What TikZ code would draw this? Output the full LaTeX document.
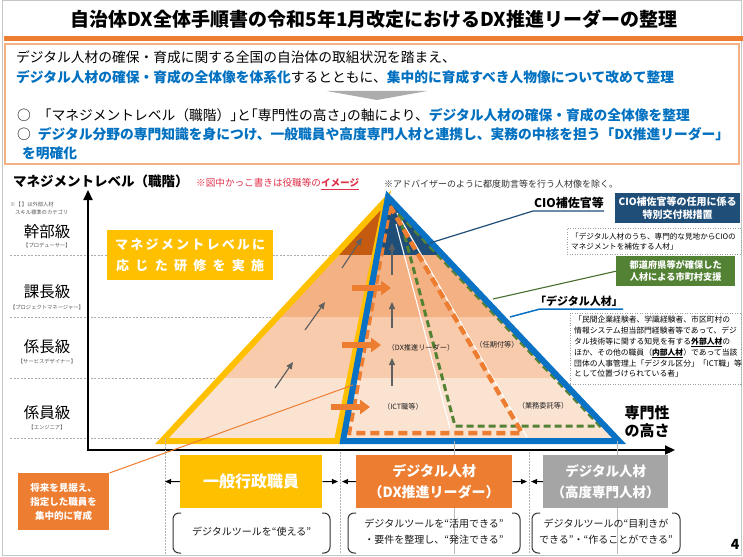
\documentclass[tikz,border=0pt]{standalone}
\usepackage{fontspec}
\setmainfont{Noto Sans CJK JP}
\usetikzlibrary{arrows.meta}
\definecolor{cOrange}{HTML}{ED7D31}
\definecolor{cOrangeL}{HTML}{F4B183}
\definecolor{cBlueTxt}{HTML}{0070C0}
\definecolor{cYellow}{HTML}{FFC000}
\definecolor{cTriBlue}{HTML}{0A72C4}
\definecolor{cNavy}{HTML}{1F4E79}
\definecolor{cGreen}{HTML}{548235}
\definecolor{cDark}{HTML}{C55A11}
\definecolor{cBa}{HTML}{F4B183}
\definecolor{cBb}{HTML}{F8CBAD}
\definecolor{cBc}{HTML}{FBE3D2}
\definecolor{cGrayBox}{HTML}{A5A5A5}
\definecolor{cRed}{HTML}{E0304A}
\newcommand\fsz[2]{\fontsize{#1}{#2}\selectfont}
\newcommand\bl[1]{\textcolor{cBlueTxt}{\bfseries #1}}
\newcommand\ulb[1]{\underline{\textbf{#1}}}
\newcommand\hw[1]{{\addfontfeature{RawFeature=+halt}#1}}
\tikzset{
 tx/.style={inner sep=0, anchor=west, font=\fsz{13.75}{16}},
 dotbox/.style={draw=gray!75, dash pattern=on 1pt off 1.5pt, line width=0.9},
 garr/.style={draw=gray!75!black, line width=1.2, -{Triangle[width=6pt,length=7pt]}},
 oarr/.style={draw=cOrange, line width=5.5, -{Triangle[width=14pt,length=10pt]}},
 sarr/.style={draw=black, line width=0.9, -{Triangle[width=5pt,length=6pt]}},
 rowl/.style={draw=gray!65, line width=0.8, dash pattern=on 2pt off 1.5pt},
 brk/.style={draw=gray!40!black, line width=1, rounded corners=6pt},
 rowlab/.style={font=\fsz{15.5}{16}, inner sep=0},
 rowsub/.style={font=\fsz{5.3}{6}, text=gray!70!black, inner sep=0},
 bigbox/.style={text=white, inner sep=0, anchor=north west, align=center, font=\fsz{14}{21}\bfseries},
 brtxt/.style={font=\fsz{10}{16}, text=gray!20!black, align=center, inner sep=0},
 plab/.style={font=\fsz{7.2}{8}, text=gray!25!black, inner sep=0},
}
\begin{document}
\begin{tikzpicture}[x=1pt,y=-1pt]
\useasboundingbox (0,0) rectangle (743,556);
\fill[white] (0,0) rectangle (743,556);
\draw[gray!45, line width=0.8] (2.5,0.5) rectangle (741.5,555);

% title
\node[font=\fsz{19}{22}\bfseries, inner sep=0] (title) at (374,19) {自治体DX全体手順書の令和5年1月改定におけるDX推進リーダーの整理};
\fill[cOrange] (4,36) rectangle (743,41);

% top box
\draw[cOrangeL, line width=1.5] (5,44) rectangle (739,164);
\node[tx] (l1) at (16,57) {デジタル人材の確保・育成に関する全国の自治体の取組状況を踏まえ、};
\node[tx] (l2) at (16,77) {\bl{デジタル人材の確保・育成の全体像を体系化}するとともに、\bl{集中的に育成すべき人物像について改めて整理}};
\fill[gray!65] (327,91) -- (427,91) -- (377,100) -- cycle;
\node[tx] (l3) at (17,115) {○\enspace\enspace\hw{「}マネジメントレベル（職階）\hw{」}と\hw{「}専門性の高さ\hw{」}の軸により、\bl{デジタル人材の確保・育成の全体像を整理}};
\node[tx] (l4) at (17,134) {○\enspace\bl{デジタル分野の専門知識を身につけ、一般職員や高度専門人材と連携し、実務の中核を担う「DX推進リーダー」}};
\node[tx] (l5) at (22,153) {\bl{を明確化}};

% chart headings
\node[font=\fsz{13.5}{15}\bfseries, inner sep=0, anchor=west] (ylab) at (13,181) {マネジメントレベル（職階）};
\node[font=\fsz{9.6}{11}, text=cRed, inner sep=0, anchor=west] (rednote) at (196,184) {※図中かっこ書きは役職等の\ulb{イメージ}};
\node[font=\fsz{9}{11}, text=gray!40!black, inner sep=0, anchor=west] (graynote) at (384,184) {※アドバイザーのように都度助言等を行う人材像を除く。};
\node[font=\fsz{5.3}{8}, text=gray!70!black, inner sep=0, anchor=north west, align=left] (smallnote) at (10,202) {※【 】は外部人材\\\hspace*{5pt}スキル標準のカテゴリ};

% row lines
\draw[rowl] (10,255) -- (385,255);
\draw[rowl] (10,317) -- (385,317);
\draw[rowl] (10,378) -- (385,378);
\draw[rowl] (10,438) -- (170,438);

% row labels
\node[rowlab] (r1) at (47,232) {幹部級};
\node[rowsub] (r1s) at (47,245) {【プロデューサー】};
\node[rowlab] (r2) at (47,292) {課長級};
\node[rowsub] (r2s) at (47,307) {【プロジェクトマネージャー】};
\node[rowlab] (r3) at (47,347) {係長級};
\node[rowsub] (r3s) at (47,361) {【サービスデザイナー】};
\node[rowlab] (r4) at (47,413) {係員級};
\node[rowsub] (r4s) at (47,427) {【エンジニア】};

% pyramid coordinates
\coordinate (YA) at (386,200);
\coordinate (YL) at (162,441);
\coordinate (YR) at (337,441);
\coordinate (BA) at (388,197);
\coordinate (BL) at (343,441);
\coordinate (BR) at (619,441);

\begin{scope}
 \clip (YA) -- (YL) -- (YR) -- cycle;
 \fill[cDark] (150,150) rectangle (400,255);
 \fill[cBa] (150,255) rectangle (400,317);
 \fill[cBb] (150,317) rectangle (400,378);
 \fill[cBc] (150,378) rectangle (400,450);
\end{scope}
\begin{scope}
 \clip (BA) -- (BL) -- (BR) -- cycle;
 \fill[cNavy] (330,150) rectangle (640,255);
 \fill[cBa] (330,255) rectangle (640,317);
 \fill[cBb] (330,317) rectangle (640,378);
 \fill[cBc] (330,378) rectangle (640,450);
\end{scope}

% inner groups
\draw[white, line width=1.3] (397,213) -- (527,437);
\draw[white, line width=1.1] (396,224) -- (450,428);
\draw[cGreen, line width=3, dash pattern=on 7pt off 4pt, line join=round] (399,214) -- (455,426) -- (600,426) -- cycle;
\draw[cOrange, line width=4.5, dash pattern=on 9pt off 5pt, line join=round] (390,206) -- (349,433) -- (522,433) -- cycle;

% outlines
\draw[cYellow, line width=6, line join=miter] (YA) -- (YL) -- (YR) -- cycle;
\draw[cTriBlue, line width=6, line join=miter] (BA) -- (BL) -- (BR) -- cycle;

% inner labels
\node[plab] (pdx) at (421,348) {（DX推進リーダー）};
\node[plab] (pnin) at (497,345) {（任期付等）};
\node[plab] (pict) at (403,407) {（ICT職等）};
\node[plab] (pgyo) at (543,406) {（業務委託等）};

% arrows inside
\draw[garr] (275,388) -- (293,362);
\draw[garr] (305,330) -- (325,302);
\draw[garr] (342,268) -- (362,238);
\draw[garr] (392,386) -- (392,358);
\draw[garr] (392,328) -- (392,302);
\draw[garr] (392,275) -- (392,243);
\draw[oarr] (352,288) -- (391,288);
\draw[oarr] (342,345) -- (381,345);
\draw[oarr] (331,407) -- (370,407);

% axes
\draw[line width=2.2, line join=miter, {Triangle[width=9pt,length=10pt]}-{Triangle[width=9pt,length=10pt]}] (88,190) -- (88,450) -- (675,450);
\node[font=\fsz{15}{18}\bfseries, align=center, inner sep=0] (xlab) at (647,422) {専門性\\の高さ};

% management box
\node[fill=cYellow, minimum width=166, minimum height=50, inner sep=0, anchor=north west] (mbox) at (107,230) {};
\node[text=white, font=\fsz{13}{21}\bfseries, align=center, inner sep=0] (mtxt) at (mbox.center) {\makebox[150pt][s]{マ\hfil ネ\hfil ジ\hfil メ\hfil ン\hfil ト\hfil レ\hfil ベ\hfil ル\hfil に}\\\makebox[148pt][s]{応\hfil じ\hfil た\hfil 研\hfil 修\hfil を\hfil 実\hfil 施}};

% right side annotations
\node[font=\fsz{12}{13}\bfseries, inner sep=0] (cio) at (569,203) {CIO補佐官等};
\coordinate (cioA) at (430,243);
\coordinate (cioB) at (533,211);
\draw[cNavy, line width=1.2] (cioA) -- (cioB) -- (cio.south east |- cioB);
\node[fill=cNavy, text=white, font=\fsz{10}{13}\bfseries, align=center, minimum width=125, minimum height=30, inner sep=0, anchor=north west] (ciobox) at (615,193) {CIO補佐官等の任用に係る\\特別交付税措置};
\node[dotbox, minimum width=174, minimum height=26, inner sep=0, anchor=north west] (ciodesc) at (567,228) {};
\node[font=\fsz{7.6}{10.5}, align=left, inner sep=0, anchor=west] (ciodtxt) at ([xshift=4pt]ciodesc.west) {「デジタル人材のうち、専門的な見地からCIOの\\マネジメントを補佐する人材」};

\node[fill=cGreen, text=white, font=\fsz{9.2}{12}\bfseries, align=center, minimum width=119, minimum height=30, inner sep=0, anchor=north west] (gbox) at (616,256) {都道府県等が確保した\\人材による市町村支援};
\coordinate (gA) at (493,299);
\draw[cGreen!85!black, line width=1.1] (gA) -- (gbox.west);

\node[font=\fsz{11}{12}\bfseries, inner sep=0] (dlab) at (579,301) {「デジタル人材」};
\coordinate (dA) at (510,317);
\coordinate (dB) at (540,309);
\draw[cTriBlue, line width=1.5] (dA) -- (dB) -- (dlab.south east |- dB);
\node[dotbox, minimum width=171, minimum height=71, inner sep=0, anchor=north west] (ddesc) at (570,313) {};
\node[font=\fsz{7.8}{10.8}, align=left, inner sep=0, anchor=north west] (ddtxt) at (574,316) {「民間企業経験者、学識経験者、市区町村の\\情報システム担当部門経験者等であって、デジ\\タル技術等に関する知見を有する\ulb{外部人材}の\\ほか、その他の職員（\ulb{内部人材}）であって当該\\団体の人事管理上「デジタル区分」「ICT職」等\\として位置づけられている者」};

% bottom dividers
\draw[gray!60, line width=0.8, dash pattern=on 1.5pt off 1.5pt] (165,438) -- (165,554);
\draw[gray!60, line width=0.8, dash pattern=on 1.5pt off 1.5pt] (340,452) -- (340,554);
\draw[gray!60, line width=0.8, dash pattern=on 1.5pt off 1.5pt] (529,452) -- (529,554);
\draw[gray!55, line width=0.6] (454,441) -- (454,554);
\draw[gray!55, line width=0.6] (617,441) -- (617,554);

% bottom boxes
\node[bigbox, fill=cYellow, minimum width=142, minimum height=53, font=\fsz{16}{18}\bfseries] (gen) at (180,455) {一般行政職員};
\node[bigbox, fill=cOrange, minimum width=156, minimum height=53] (dxl) at (356,455) {デジタル人材\\（DX推進リーダー）};
\node[bigbox, fill=cGrayBox, minimum width=125, minimum height=53, font=\fsz{13.5}{21}\bfseries] (adv) at (543,455) {デジタル人材\\（高度専門人材）};

\coordinate (d1) at (165,481.5);
\coordinate (d2a) at (338,481.5);
\coordinate (d2b) at (342,481.5);
\coordinate (d3a) at (527,481.5);
\coordinate (d3b) at (531,481.5);
\draw[sarr] (gen.west) -- (d1);
\draw[sarr] (gen.east) -- (d2a);
\draw[sarr] (dxl.west) -- (d2b);
\draw[sarr] (dxl.east) -- (d3a);
\draw[sarr] (adv.west) -- (d3b);

% bracket boxes
\draw[brk] (181,513) -- (173,513) -- (173,553) -- (181,553);
\draw[brk] (322,513) -- (330,513) -- (330,553) -- (322,553);
\node[brtxt] (b1) at (251.5,532) {デジタルツールを“使える”};
\draw[brk] (356,513) -- (348,513) -- (348,553) -- (356,553);
\draw[brk] (512,513) -- (520,513) -- (520,553) -- (512,553);
\node[brtxt] (b2) at (434,532) {デジタルツールを“活用できる”\\・要件を整理し、“発注できる”};
\draw[brk] (540,513) -- (532,513) -- (532,553) -- (540,553);
\draw[brk] (672,513) -- (680,513) -- (680,553) -- (672,553);
\node[brtxt] (b3) at (606,532) {デジタルツールの“目利きが\\できる”・“作ることができる”};

% future note
\node[fill=cOrange, text=white, font=\fsz{9.5}{14}\bfseries, align=center, minimum width=91, minimum height=57, inner sep=0, anchor=north west] (fut) at (18,473) {将来を見据え、\\指定した職員を\\集中的に育成};
\coordinate (futend) at (353,385);
\draw[cOrange, line width=1] (fut.north east) -- (futend);

\node[font=\fsz{14}{14}\bfseries, inner sep=0] (pg) at (735,544) {4};
\end{tikzpicture}
\end{document}
